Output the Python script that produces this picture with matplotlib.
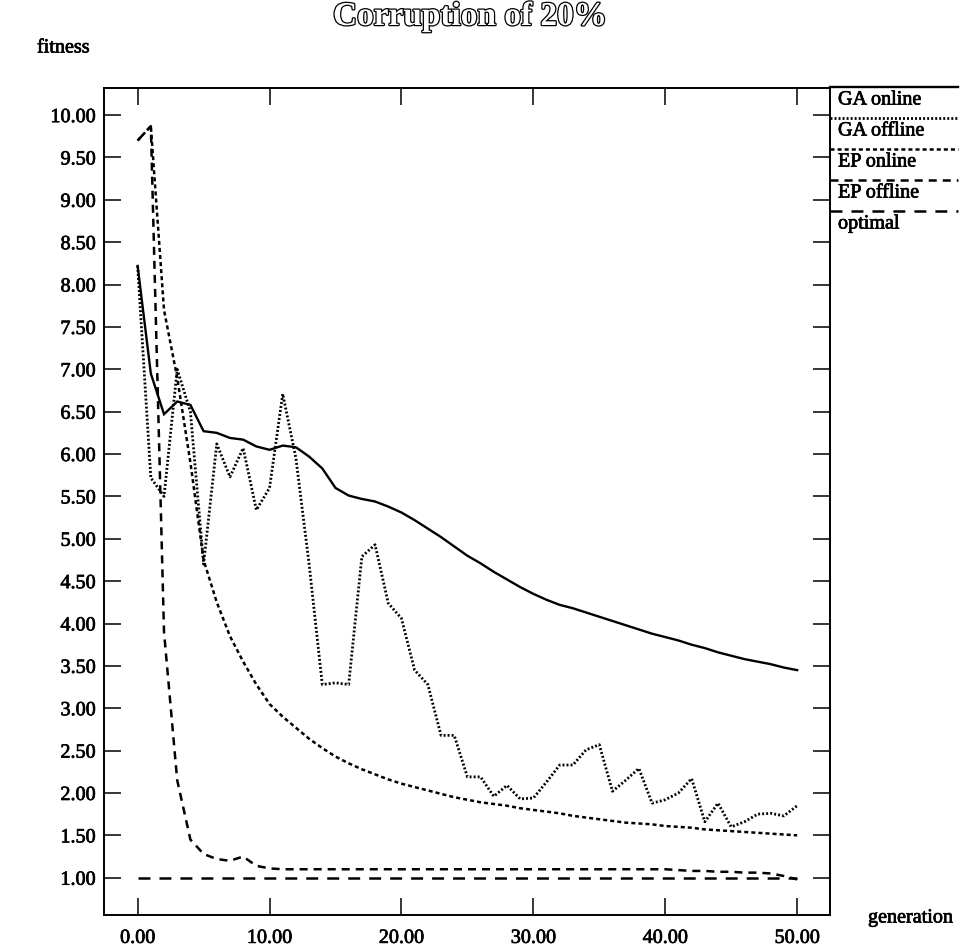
import matplotlib
matplotlib.use("Agg")
import matplotlib.pyplot as plt
import matplotlib.patheffects as pe
from matplotlib.lines import Line2D
import numpy as np

plt.rcParams['font.family'] = ['Liberation Serif', 'DejaVu Serif']
plt.rcParams['lines.scale_dashes'] = False

generation = np.arange(0, 51)

ga_online = [8.22, 6.95, 6.47, 6.62, 6.58, 6.27, 6.25, 6.19, 6.17, 6.09,
             6.05, 6.10, 6.08, 5.97, 5.83, 5.60, 5.51, 5.47, 5.44, 5.38,
             5.31, 5.22, 5.12, 5.02, 4.91, 4.80, 4.71, 4.61, 4.52, 4.43,
             4.35, 4.28, 4.22, 4.18, 4.13, 4.08, 4.03, 3.98, 3.93, 3.88,
             3.84, 3.80, 3.75, 3.71, 3.66, 3.62, 3.58, 3.55, 3.52, 3.48,
             3.45]
ga_offline = [8.22, 5.72, 5.50, 7.00, 6.50, 4.70, 6.12, 5.73, 6.07, 5.34,
              5.60, 6.71, 5.95, 4.70, 3.28, 3.30, 3.28, 4.79, 4.93, 4.24,
              4.06, 3.45, 3.28, 2.68, 2.68, 2.19, 2.19, 1.96, 2.09, 1.93,
              1.94, 2.13, 2.33, 2.33, 2.51, 2.57, 2.02, 2.15, 2.29, 1.88,
              1.92, 2.00, 2.17, 1.66, 1.88, 1.60, 1.66, 1.75, 1.76, 1.73,
              1.85]
ep_online = [9.70, 9.87, 7.70, 6.90, 5.90, 4.75, 4.25, 3.85, 3.55, 3.28,
             3.05, 2.90, 2.77, 2.64, 2.53, 2.43, 2.35, 2.28, 2.22, 2.16,
             2.11, 2.07, 2.03, 1.99, 1.95, 1.92, 1.89, 1.87, 1.85, 1.82,
             1.80, 1.78, 1.76, 1.73, 1.71, 1.69, 1.67, 1.65, 1.64, 1.63,
             1.61, 1.60, 1.59, 1.57, 1.56, 1.55, 1.54, 1.53, 1.52, 1.51,
             1.50]
ep_offline = [9.70, 9.87, 3.90, 2.15, 1.45, 1.28, 1.22, 1.20, 1.25, 1.14,
              1.11, 1.10, 1.10, 1.10, 1.10, 1.10, 1.10, 1.10, 1.10, 1.10,
              1.10, 1.10, 1.10, 1.10, 1.10, 1.10, 1.10, 1.10, 1.10, 1.10,
              1.10, 1.10, 1.10, 1.10, 1.10, 1.10, 1.10, 1.10, 1.10, 1.10,
              1.10, 1.09, 1.08, 1.08, 1.07, 1.07, 1.06, 1.06, 1.05, 1.02,
              0.98]
optimal = [1.00] * 51

# name, values, line style, line width
series = [
    ("GA online", ga_online, '-', 1.7),
    ("GA offline", ga_offline, (0, (1.4, 1.5)), 2.0),
    ("EP online", ep_online, (0, (2.9, 2.2)), 1.8),
    ("EP offline", ep_offline, (0, (5.8, 4.3)), 1.8),
    ("optimal", optimal, (0, (8.6, 6.5)), 1.8),
]

# scanned look: slightly heavier letters
heavy = [pe.withStroke(linewidth=0.5, foreground='black')]
FS = 14.5

fig = plt.figure(figsize=(9.63, 9.52), dpi=100)
ax = fig.add_axes([104 / 963, 37 / 952, 726 / 963, 827 / 952])

for name, vals, ls, lw in series:
    ax.plot(generation, vals, color='black', lw=lw, linestyle=ls,
            dash_capstyle='butt', solid_joinstyle='miter')

ax.set_xlim(-2.55, 52.49)
ax.set_ylim(0.56, 10.32)
ax.set_xticks(np.arange(0, 51, 10))
ax.set_yticks(np.arange(1.0, 10.01, 0.5))
ax.set_xticklabels([f"{v:.2f}" for v in np.arange(0, 51, 10)])
ax.set_yticklabels([f"{v:.2f}" for v in np.arange(1.0, 10.01, 0.5)])
ax.tick_params(direction='in', length=12, width=1.1, labelsize=FS,
               top=True, right=True, color='black')
ax.tick_params(axis='x', pad=10)
ax.tick_params(axis='y', pad=6)
for lab in ax.get_xticklabels() + ax.get_yticklabels():
    lab.set_path_effects(heavy)
for sp in ax.spines.values():
    sp.set_linewidth(1.4)

# title in outline letters
fig.text(470 / 963, 1 - 25 / 952, "Corruption of 20%", ha='center', va='baseline',
         fontsize=24, fontweight='bold', color='white',
         path_effects=[pe.withStroke(linewidth=1.8, foreground='black')])
fig.text(37 / 963, 1 - 48 / 952, "fitness", ha='left', va='center',
         fontsize=FS, path_effects=heavy)
fig.text(868 / 963, 1 - 918 / 952, "generation", ha='left', va='center',
         fontsize=FS, path_effects=heavy)

# legend: line sample above each label
y0 = 87
for i, (name, vals, ls, lw) in enumerate(series):
    yl = 1 - (y0 + 31 * i) / 952
    fig.add_artist(Line2D([830 / 963, 958 / 963], [yl, yl], color='black',
                          lw=lw, linestyle=ls, dash_capstyle='butt',
                          transform=fig.transFigure))
    fig.text(838 / 963, yl - 13 / 952, name, ha='left', va='center',
             fontsize=FS, path_effects=heavy)

fig.savefig("out.png", dpi=100)
